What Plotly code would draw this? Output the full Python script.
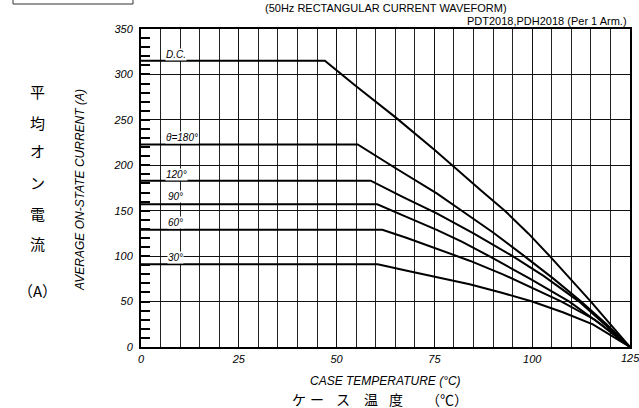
import plotly.graph_objects as go

# ---- data ----
dc_temp = [0, 47, 55, 65, 75, 80, 87, 93, 99, 104.5, 110, 115, 120, 125]
dc_cur = [315, 315, 287, 253, 217, 198, 172, 150, 125, 100, 74, 50, 25, 0]

a180_temp = [0, 55.4, 65, 75.6, 82, 90, 98, 105.5, 112.5, 119, 125]
a180_cur = [223, 223, 197, 169, 150, 126, 100, 75, 50, 25, 0]

a120_temp = [0, 58.7, 67, 75.6, 85, 95, 103, 112, 118.5, 125]
a120_cur = [183, 183, 165, 147, 125, 100, 78, 50, 25, 0]

a90_temp = [0, 60.4, 68, 75.6, 82, 89, 99.5, 109.5, 117.5, 125]
a90_cur = [157, 157, 143, 129, 116, 100, 75, 50, 25, 0]

a60_temp = [0, 61.7, 68, 75.6, 84, 92.5, 100, 107.5, 116, 125]
a60_cur = [129, 129, 120, 108, 95, 80, 65, 50, 30, 0]

a30_temp = [0, 60.5, 68, 75.6, 84, 92, 100, 108, 115.5, 125]
a30_cur = [91, 91, 84, 77, 69, 60, 50, 38, 25, 0]

curve_labels = ["D.C.", "θ=180°", "120°", "90°", "60°", "30°"]
label_temp = [6.1, 6.1, 6.1, 6.6, 6.6, 6.6]
label_cur = [321.4, 230.8, 190.4, 165.4, 137.2, 98.7]

x_ticks = [0, 25, 50, 75, 100, 125]
y_ticks = [0, 50, 100, 150, 200, 250, 300, 350]

title_text = "(50Hz RECTANGULAR CURRENT WAVEFORM)"
subtitle_text = "PDT2018,PDH2018 (Per 1 Arm.)"
x_title = "CASE TEMPERATURE (°C)"
y_title = "AVERAGE ON-STATE CURRENT (A)"
jp_y_chars = ["平", "均", "オ", "ン", "電", "流", "（A）"]
jp_x_chars = ["ケ", "ー", "ス", "温", "度", "（℃）"]

# ---- layout geometry ----
W, H = 639, 408
L, R, T, B = 141, 9, 29, 61
PW, PH = W - L - R, H - T - B


def px(x):
    return (x - L) / PW


def py(y):
    return (H - B - y) / PH


FONT = "Liberation Sans, Arial, sans-serif"
JP = "Noto Sans CJK JP"
TICKFONT = dict(family=FONT, size=11, color="black", style="italic")

fig = go.Figure()
for xs, ys in [(dc_temp, dc_cur), (a180_temp, a180_cur), (a120_temp, a120_cur),
               (a90_temp, a90_cur), (a60_temp, a60_cur), (a30_temp, a30_cur)]:
    fig.add_trace(go.Scatter(x=xs, y=ys, mode="lines",
                             line=dict(color="black", width=2),
                             showlegend=False, hoverinfo="skip"))

ann = []
for t, xv, yv in zip(curve_labels, label_temp, label_cur):
    ann.append(dict(x=xv, y=yv, xref="x", yref="y", text=t, showarrow=False,
                    xanchor="left", yanchor="middle", bgcolor="white", borderpad=0,
                    font=dict(family=FONT, size=10, color="black", style="italic")))

# last x tick label sits on the page edge (partly cut, as in the reference)
ann.append(dict(x=x_ticks[-1], y=py(358), xref="x", yref="paper", text=str(x_ticks[-1]),
                showarrow=False, xanchor="center", yanchor="middle", font=TICKFONT))

ann.append(dict(x=px(386), y=py(8), xref="paper", yref="paper", text=title_text,
                showarrow=False, xanchor="center", yanchor="middle",
                font=dict(family=FONT, size=11, color="black")))
ann.append(dict(x=px(629), y=py(21.5), xref="paper", yref="paper", text=subtitle_text,
                showarrow=False, xanchor="right", yanchor="middle",
                font=dict(family=FONT, size=11, color="black")))
ann.append(dict(x=px(385), y=py(381), xref="paper", yref="paper", text=x_title,
                showarrow=False, xanchor="center", yanchor="middle",
                font=dict(family=FONT, size=12, color="black", style="italic")))
ann.append(dict(x=px(80), y=py(190), xref="paper", yref="paper", text=y_title,
                showarrow=False, xanchor="center", yanchor="middle", textangle=-90,
                font=dict(family=FONT, size=12, color="black", style="italic")))

jp_y_pos = [92, 122, 150, 182, 213, 243, 290]
for ch, yy in zip(jp_y_chars, jp_y_pos):
    ann.append(dict(x=px(37), y=py(yy), xref="paper", yref="paper", text=ch,
                    showarrow=False, xanchor="center", yanchor="middle",
                    font=dict(family=JP, size=15, color="black")))

jp_x_pos = [299, 317, 343, 371, 396, 447]
for ch, xx in zip(jp_x_chars, jp_x_pos):
    ann.append(dict(x=px(xx), y=py(399), xref="paper", yref="paper", text=ch,
                    showarrow=False, xanchor="center", yanchor="middle",
                    font=dict(family=JP, size=14, color="black")))

shapes = [dict(type="rect", xref="paper", yref="paper",
               x0=px(13), x1=px(133), y0=py(4), y1=py(-6),
               line=dict(color="#333", width=1), fillcolor="rgba(0,0,0,0)")]

fig.update_layout(
    width=W, height=H, autosize=False,
    margin=dict(l=L, r=R, t=T, b=B, pad=0, autoexpand=False),
    paper_bgcolor="white", plot_bgcolor="white",
    annotations=ann, shapes=shapes,
    xaxis=dict(range=[0, 125], tickvals=x_ticks[:-1], ticks="", automargin=False,
               showgrid=True, gridcolor="#111", gridwidth=1,
               minor=dict(dtick=5, showgrid=True, gridcolor="#222", gridwidth=1, ticks=""),
               showline=True, linecolor="black", linewidth=2, mirror=True,
               zeroline=False, ticklabelstandoff=1, tickfont=TICKFONT),
    yaxis=dict(range=[0, 350], tickvals=y_ticks, ticks="inside", ticklen=9, tickwidth=2,
               tickcolor="black", automargin=False,
               showgrid=True, gridcolor="#111", gridwidth=1,
               minor=dict(dtick=10, ticks="inside", ticklen=9, tickwidth=2,
                          tickcolor="black", showgrid=False),
               showline=True, linecolor="black", linewidth=2, mirror=True,
               zeroline=False, ticklabelstandoff=4, tickfont=TICKFONT),
)

fig.write_html("out.html", config={"displayModeBar": False, "responsive": False},
               post_script="document.body.style.margin='0';document.body.style.overflow='hidden';")
